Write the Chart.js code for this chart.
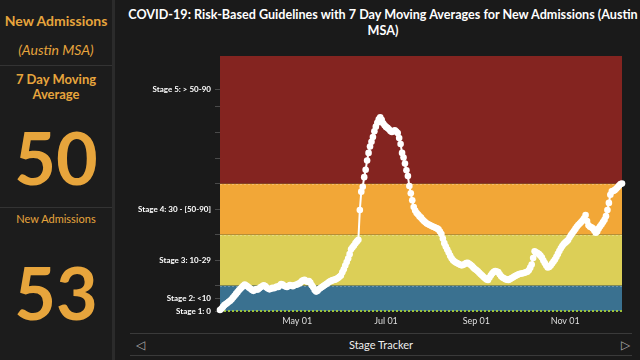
<!DOCTYPE html>
<html lang="en">
<head>
    <meta charset="UTF-8" />
    <title>COVID-19 Stage Tracker</title>
    <script src="https://cdn.jsdelivr.net/npm/chart.js"></script>
    <style>
        body {
            margin: 0;
            width: 640px;
            height: 360px;
            background: #1a1a1a;
            font-family: Lato, "Open Sans", sans-serif;
            overflow: hidden;
            position: relative;
        }
        .side {
            position: absolute;
            left: 0; top: 0;
            width: 112px; height: 360px;
            background: #1c1c1c;
            border-right: 3px solid #2b2b2b;
            color: #e7a53c;
            text-align: center;
        }
        .side div { position: absolute; left: 0; width: 112px; }
        .sep { height: 1px; background: #333; }
        .big { font-size: 72px; line-height: 72px; font-weight: bold; }
        .title {
            position: absolute;
            left: 83px; top: 7px;
            width: 600px;
            color: #fff;
            font-size: 12.6px;
            font-weight: bold;
            line-height: 16px;
            text-align: center;
            white-space: nowrap;
        }
        .chartBox {
            position: absolute;
            left: 120px; top: 0;
            width: 520px; height: 330px;
        }
        .footer {
            position: absolute;
            left: 130px; top: 333px;
            width: 502px; height: 21px;
            border-top: 1px solid #3a3a3a;
            border-bottom: 1px solid #3a3a3a;
            color: #eee;
            font-size: 11px;
            line-height: 21px;
            text-align: center;
        }
        .footer span { position: absolute; top: 0; color: #aaa; font-size: 12px; }
    </style>
</head>
<body>

<div class="side">
    <div style="top:12px; font-size:14px; font-weight:bold;">New Admissions</div>
    <div style="top:41px; font-size:14px; font-style:italic;">(Austin MSA)</div>
    <div class="sep" style="top:65px;"></div>
    <div style="top:72px; font-size:13px; font-weight:bold; line-height:15px;">7 Day Moving<br>Average</div>
    <div class="big" style="top:121px;">50</div>
    <div class="sep" style="top:207px;"></div>
    <div style="top:212px; font-size:11px;">New Admissions</div>
    <div class="big" style="top:256px;">53</div>
</div>

<div class="title">COVID-19: Risk-Based Guidelines with 7 Day Moving Averages for New Admissions (Austin<br>MSA)</div>

<div class="chartBox">
    <canvas id="stageChart" width="520" height="330"></canvas>
</div>

<div class="footer">
    <span style="left:6px;">&#9665;</span>
    Stage Tracker
    <span style="right:2px;">&#9655;</span>
</div>

<script>
    // 7 day moving average of new admissions, daily from Mar 09 to Dec 10
    const startDate = new Date(2020, 2, 9);
    const marVals = [0.4, 0.9, 1.6, 2.3, 2.7, 3.1, 3.6, 4.0, 4.6, 5.3, 6.0, 6.7, 7.4, 8.1, 8.7, 9.3, 9.9, 10.4, 10.0, 9.6, 9.1, 8.7, 8.2];
    const aprVals = [7.9, 8.3, 8.6, 8.4, 8.9, 9.4, 9.7, 10.1, 9.8, 9.2, 8.8, 8.5, 8.7, 9.1, 8.9, 9.2, 9.6, 9.4, 10.0, 10.6, 10.4, 9.9, 9.6, 9.4, 9.8, 10.2, 10.0, 9.7, 10.1, 10.3];
    const mayVals = [10.4, 10.8, 11.0, 11.6, 12.0, 12.2, 11.8, 11.5, 11.7, 11.2, 10.1, 9.3, 8.2, 7.6, 7.9, 8.6, 9.0, 9.4, 9.8, 10.2, 10.6, 11.0, 11.5, 11.7, 12.0, 12.2, 12.3, 12.6, 12.9, 13.4, 13.9];
    const junVals = [15.2, 16.4, 17.8, 19.2, 20.6, 22.3, 24.2, 25.0, 25.7, 26.6, 27.3, 27.9, 39.6, 46.8, 48.7, 52.5, 55.4, 59.0, 62.0, 64.5, 66.4, 68.2, 70.5, 72.3, 73.8, 75.2, 76.0, 75.0, 73.6, 72.8];
    const julVals = [72.2, 71.8, 71.3, 70.6, 70.2, 70.6, 70.9, 70.4, 69.8, 67.8, 65.5, 62.0, 60.2, 57.8, 55.2, 52.9, 49.0, 46.2, 43.4, 40.8, 39.4, 38.4, 37.8, 37.1, 36.6, 35.9, 35.3, 34.8, 34.3, 34.0, 33.7];
    const augVals = [33.4, 33.1, 32.9, 32.6, 32.4, 32.0, 31.2, 30.2, 28.4, 26.6, 25.3, 24.1, 22.9, 21.7, 20.7, 19.9, 19.4, 19.0, 18.7, 18.4, 18.1, 17.9, 18.1, 18.4, 18.8, 18.9, 18.5, 18.1, 17.6, 17.0, 16.5];
    const sepVals = [16.1, 15.6, 15.0, 14.4, 13.9, 13.3, 12.8, 12.4, 12.2, 13.1, 14.0, 14.8, 15.4, 15.7, 15.5, 15.3, 14.4, 13.6, 13.1, 12.8, 12.5, 12.3, 12.2, 12.5, 12.8, 13.1, 13.5, 13.8, 14.1, 14.4];
    const octVals = [14.6, 14.7, 14.8, 15.0, 15.2, 15.4, 16.0, 17.0, 18.2, 20.8, 23.4, 23.0, 22.7, 22.3, 21.7, 21.0, 19.8, 18.8, 17.8, 17.1, 17.3, 17.8, 18.6, 19.4, 20.2, 21.3, 22.4, 23.5, 24.6, 25.5, 26.3];
    const novVals = [26.8, 27.3, 27.8, 28.9, 29.8, 30.6, 31.4, 32.2, 33.0, 33.7, 34.3, 34.9, 35.6, 36.4, 37.6, 35.3, 33.6, 33.0, 32.8, 32.4, 31.6, 30.7, 31.2, 32.4, 33.2, 34.0, 34.9, 35.8, 37.2, 39.6];
    const decVals = [42.4, 45.6, 46.9, 47.1, 47.4, 47.9, 48.5, 49.2, 49.8, 50.0];

    // stage bands (admissions per day)
    const bandFrom = [0, 10, 30, 50];
    const bandTo = [10, 30, 50, 100];
    const bandColors = ['#3a7190', '#dccf57', '#f2a737', '#842420'];

    // y tick labels
    const stageTickValues = [0, 5, 20, 40, 87];
    const stageTickLabels = ['Stage 1: 0', 'Stage 2: <10', 'Stage 3: 10-29', 'Stage 4: 30 - [50-90]', 'Stage 5: > 50-90'];
    const xTickLabels = ['May 01', 'Jul 01', 'Sep 01', 'Nov 01'];

    const values = [].concat(marVals, aprVals, mayVals, junVals, julVals, augVals, sepVals, octVals, novVals, decVals);
    const monthNames = ['Jan', 'Feb', 'Mar', 'Apr', 'May', 'Jun', 'Jul', 'Aug', 'Sep', 'Oct', 'Nov', 'Dec'];
    const labels = values.map((v, i) => {
        const d = new Date(startDate.getTime());
        d.setDate(d.getDate() + i);
        return monthNames[d.getMonth()] + ' ' + String(d.getDate()).padStart(2, '0');
    });

    // colored stage bands behind the line
    const bandPlugin = {
        id: 'stageBands',
        beforeDatasetsDraw(chart) {
            const { ctx, chartArea, scales } = chart;
            const y = scales.y;
            ctx.save();
            bandFrom.forEach((from, i) => {
                const top = y.getPixelForValue(bandTo[i]);
                const bottom = y.getPixelForValue(from);
                ctx.fillStyle = bandColors[i];
                ctx.fillRect(chartArea.left, top, chartArea.right - chartArea.left, bottom - top);
            });
            // dotted band borders
            ctx.setLineDash([2, 2]);
            ctx.lineWidth = 1;
            ctx.strokeStyle = 'rgba(255,255,255,0.25)';
            [10, 30, 50].forEach(v => {
                const py = Math.round(y.getPixelForValue(v)) + 0.5;
                ctx.beginPath();
                ctx.moveTo(chartArea.left, py);
                ctx.lineTo(chartArea.right, py);
                ctx.stroke();
            });
            ctx.strokeStyle = '#9ac13c';
            ctx.lineWidth = 2;
            const p0 = y.getPixelForValue(0);
            ctx.beginPath();
            ctx.moveTo(chartArea.left, p0);
            ctx.lineTo(chartArea.right, p0);
            ctx.stroke();
            ctx.restore();
        }
    };

    const ctx = document.getElementById('stageChart').getContext('2d');
    new Chart(ctx, {
        type: 'line',
        data: {
            labels: labels,
            datasets: [{
                label: 'New Admissions (7 day avg)',
                data: values,
                borderColor: '#ffffff',
                backgroundColor: '#ffffff',
                borderWidth: 2,
                pointRadius: 3.3,
                pointBorderWidth: 0,
                tension: 0,
                clip: false
            }]
        },
        options: {
            responsive: false,
            animation: false,
            layout: { padding: { top: 56, right: 18 } },
            plugins: {
                legend: { display: false },
                tooltip: { enabled: false }
            },
            scales: {
                x: {
                    grid: { display: false, drawTicks: false },
                    border: { display: false },
                    ticks: {
                        autoSkip: false,
                        maxRotation: 0,
                        minRotation: 0,
                        padding: 5,
                        color: '#dddddd',
                        font: { family: 'Lato', size: 9 },
                        callback: function (val, idx) {
                            return xTickLabels.includes(labels[idx]) ? labels[idx] : '';
                        }
                    },
                    afterFit: scale => { scale.height = 19; }
                },
                y: {
                    min: 0,
                    max: 100,
                    grid: { drawOnChartArea: false, color: '#4a4a4a', tickLength: 5 },
                    border: { display: false },
                    afterBuildTicks: scale => {
                        scale.ticks = [0, 5, 10, 20, 30, 40, 50, 60, 70, 80, 87].map(v => ({ value: v }));
                    },
                    ticks: {
                        padding: 4,
                        color: '#ffffff',
                        font: { family: 'Lato', size: 8, weight: 'bold' },
                        callback: function (val) {
                            const k = stageTickValues.indexOf(val);
                            return k >= 0 ? stageTickLabels[k] : '';
                        }
                    },
                    afterFit: scale => { scale.width = 100; }
                }
            }
        },
        plugins: [bandPlugin]
    });
</script>

</body>
</html>
